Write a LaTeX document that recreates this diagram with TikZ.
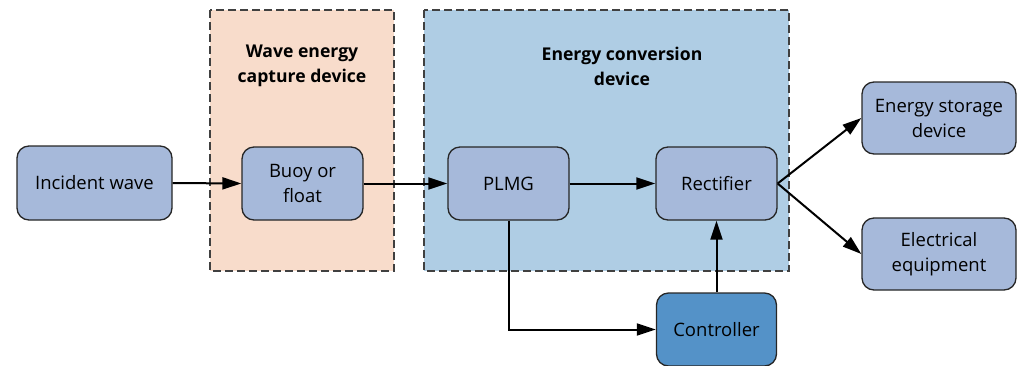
\documentclass[tikz,border=0pt]{standalone}
\usepackage{fontspec}
\setmainfont{Open Sans}
\usetikzlibrary{arrows.meta}
\definecolor{boxfill}{RGB}{166,185,218}
\definecolor{ctrlfill}{RGB}{84,146,200}
\definecolor{capturebg}{RGB}{248,220,203}
\definecolor{convbg}{RGB}{175,205,228}
\definecolor{zoneline}{RGB}{64,64,64}
\tikzset{
  block/.style={draw=black!85, line width=1.3pt, fill=boxfill, rounded corners=12pt,
    minimum width=121pt, minimum height=73pt, align=center, inner sep=2pt,
    font=\fontsize{18.5}{25}\selectfont},
  zone/.style={draw=zoneline, line width=1.4pt, dash pattern=on 8pt off 4pt},
  zonetitle/.style={font=\fontsize{17.6}{25}\selectfont\bfseries, align=center, inner sep=0pt},
  flow/.style={line width=2pt, -{Triangle[length=19pt,width=12pt]}},
}
\begin{document}
\begin{tikzpicture}[x=1pt,y=-1pt]
\useasboundingbox (0,0) rectangle (1018,365);
% grouping zones
\filldraw[zone, fill=capturebg] (210,10) rectangle (394,271);
\filldraw[zone, fill=convbg] (424,10) rectangle (789,271);
\node[zonetitle] (capturetitle) at (302,66) {Wave energy\\capture device};
\node[zonetitle] (convtitle) at (622,66) {Energy conversion\\device};
% blocks
\node[block, minimum width=155pt, minimum height=74pt] (wave) at (94.5,183) {Incident wave};
\node[block] (buoy) at (302.5,183.5) {Buoy or\\float};
\node[block] (plmg) at (508.5,183.5) {PLMG};
\node[block] (rect) at (716.5,183.5) {Rectifier};
\node[block, minimum width=154pt, minimum height=72pt] (store) at (939,118) {Energy storage\\device};
\node[block, minimum width=154pt, minimum height=72pt] (equip) at (939,254) {Electrical\\equipment};
\node[block, fill=ctrlfill, minimum width=120pt] (ctrl) at (716.5,329.5) {Controller};
% connections
\draw[flow] (wave.east) -- (buoy.west);
\draw[flow] (buoy.east) -- (plmg.west);
\draw[flow] (plmg.east) -- (rect.west);
\draw[flow] (rect.east) -- (store.west);
\draw[flow] (rect.east) -- (equip.west);
\draw[flow] (plmg.south) |- (ctrl.west);
\draw[flow] (ctrl.north) -- (rect.south);
\end{tikzpicture}
\end{document}
